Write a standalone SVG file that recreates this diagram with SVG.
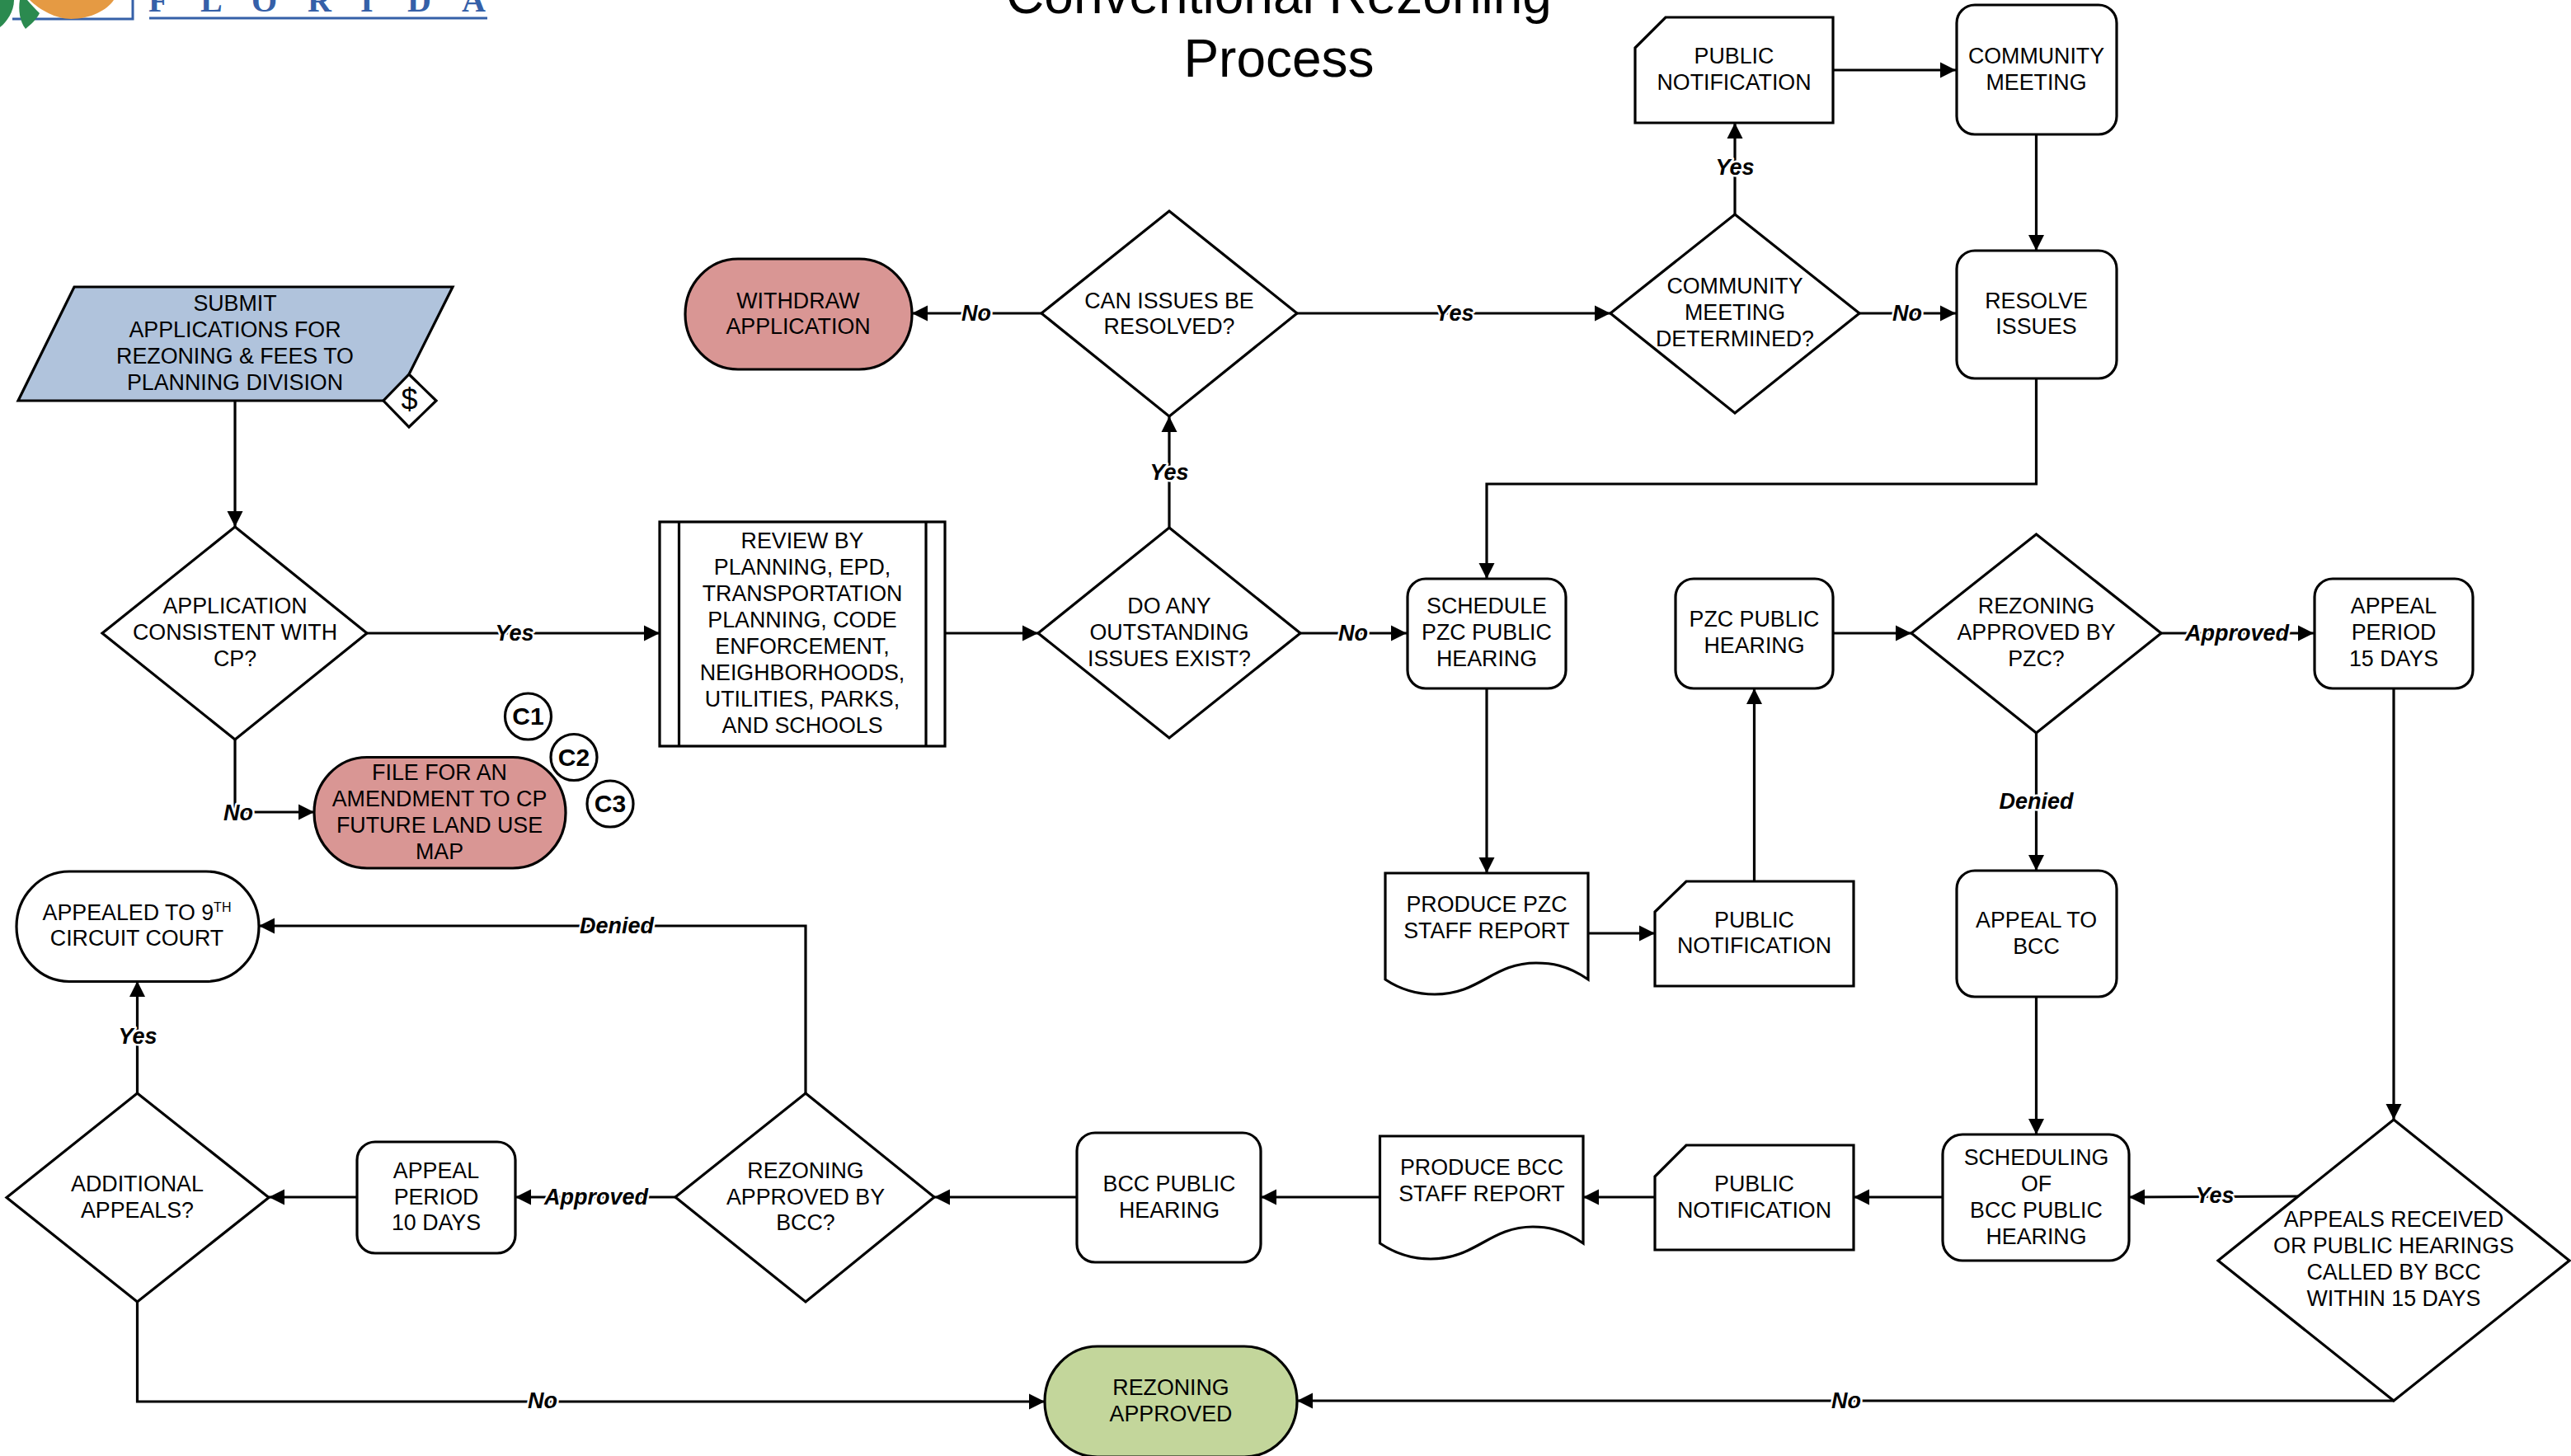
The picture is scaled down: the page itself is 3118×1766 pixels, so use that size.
<svg xmlns="http://www.w3.org/2000/svg" width="3118" height="1766" viewBox="0 0 3118 1766">
<style>
text{font-family:"Liberation Sans",Arial,sans-serif;fill:#000}
.t{font-size:26.8px;text-anchor:middle}
.s{fill:#fff;stroke:#000;stroke-width:3.2;stroke-linejoin:miter}
.c{fill:none;stroke:#000;stroke-width:3.2;marker-end:url(#a)}
.n{fill:none;stroke:#000;stroke-width:3.2}
.l{font-size:27px;font-weight:bold;font-style:italic;text-anchor:middle;paint-order:stroke;stroke:#fff;stroke-width:5px;stroke-linejoin:round}
.h{font-size:64px;text-anchor:middle}
.ci{font-size:30px;font-weight:bold;text-anchor:middle}
.f{font-family:"Liberation Serif",serif;font-size:40px;font-weight:bold;fill:#3560a8}
</style>
<defs><marker id="a" markerUnits="userSpaceOnUse" markerWidth="20" markerHeight="20" refX="19" refY="10" orient="auto"><path d="M0 0.5L19 10L0 19.5z" fill="#000"/></marker></defs>
<rect width="3118" height="1766" fill="#fff"/>
<g id="logo">
<path d="M15 23H161V0M181 22H591" fill="none" stroke="#3560a8" stroke-width="3"/>
<path d="M36 0C48 12 68 23 86 23C110 23 130 12 138 0z" fill="#e59a43"/>
<path d="M0 33C8 27 17 14 17 0H0z" fill="#2b8a4f"/>
<path d="M31 35C24 26 22 12 24 0H33C38 6 44 12 48 16C44 24 37 30 31 35z" fill="#2b8a4f"/>
<text class="f" x="180" y="14">F</text><text class="f" x="243" y="14">L</text><text class="f" x="305" y="14">O</text><text class="f" x="373" y="14">R</text><text class="f" x="437" y="14">I</text><text class="f" x="494" y="14">D</text><text class="f" x="560" y="14">A</text>
</g>
<g id="title"><text class="h" x="1551" y="16">Conventional Rezoning</text><text class="h" x="1551" y="93">Process</text></g>
<g id="connectors">
<path class="c" d="M285 486V639"/>
<path class="c" d="M445 768H800"/>
<path class="c" d="M285 897V985H381"/>
<path class="c" d="M1146 768H1259"/>
<path class="c" d="M1418 640V505"/>
<path class="c" d="M1263 380H1106"/>
<path class="c" d="M1573 380H1953"/>
<path class="c" d="M2104 260V149"/>
<path class="c" d="M2223 85H2372"/>
<path class="c" d="M2469.5 163V304"/>
<path class="c" d="M2255 380H2372"/>
<path class="c" d="M2469.5 459V587H1803V702"/>
<path class="c" d="M1577 768H1706"/>
<path class="c" d="M1803 835V1059"/>
<path class="c" d="M1926 1132H2007"/>
<path class="c" d="M2127.5 1069V835"/>
<path class="c" d="M2223 768H2318"/>
<path class="c" d="M2621 768H2806"/>
<path class="c" d="M2469.5 889V1056"/>
<path class="c" d="M2469.5 1209V1376"/>
<path class="c" d="M2903 835V1358"/>
<path class="c" d="M2788 1451L2582 1452"/>
<path class="c" d="M2356 1452H2248"/>
<path class="c" d="M2007 1452H1920"/>
<path class="c" d="M1673 1452H1529"/>
<path class="c" d="M1306 1452H1133"/>
<path class="c" d="M819 1452H625"/>
<path class="c" d="M433 1452H326"/>
<path class="c" d="M977 1326V1123H314"/>
<path class="c" d="M166.500 1326V1190"/>
<path class="c" d="M166.500 1579V1700H1267"/>
<path class="c" d="M2903 1699H1573"/>
<text class="l" x="624" y="777">Yes</text>
<text class="l" x="289" y="995">No</text>
<text class="l" x="1418" y="582">Yes</text>
<text class="l" x="1184" y="389">No</text>
<text class="l" x="1764" y="389">Yes</text>
<text class="l" x="2104" y="212">Yes</text>
<text class="l" x="2313" y="389">No</text>
<text class="l" x="1641" y="777">No</text>
<text class="l" x="2713" y="777">Approved</text>
<text class="l" x="2469.500" y="981">Denied</text>
<text class="l" x="2686" y="1459">Yes</text>
<text class="l" x="723" y="1461">Approved</text>
<text class="l" x="748" y="1132">Denied</text>
<text class="l" x="167" y="1266">Yes</text>
<text class="l" x="658" y="1708">No</text>
<text class="l" x="2239" y="1708">No</text>
</g>
<g id="submit"><path d="M90 348H549L496 454V486H22z" fill="#b0c3dc" stroke="none"/><path class="n" d="M496 454L549 348H90L22 486H465"/><text class="t" x="285" y="377">SUBMIT</text><text class="t" x="285" y="409">APPLICATIONS FOR</text><text class="t" x="285" y="441">REZONING &amp; FEES TO</text><text class="t" x="285" y="473">PLANNING DIVISION</text></g>
<g id="fee"><path class="s" d="M496 454L529 486L496 518L465 486z"/><text class="t" x="496.500" y="497" style="font-size:36px">$</text></g>
<g id="consistent"><path class="s" d="M285 639L445 768L285 897L124 768z"/><text class="t" x="285" y="744">APPLICATION</text><text class="t" x="285" y="776">CONSISTENT WITH</text><text class="t" x="285" y="808">CP?</text></g>
<g id="review"><rect class="s" x="800" y="633" width="346" height="272"/><path class="n" d="M823.500 633V905M1123 633V905"/><text class="t" x="973" y="665">REVIEW BY</text><text class="t" x="973" y="697">PLANNING, EPD,</text><text class="t" x="973" y="729">TRANSPORTATION</text><text class="t" x="973" y="761">PLANNING, CODE</text><text class="t" x="973" y="793">ENFORCEMENT,</text><text class="t" x="973" y="825">NEIGHBORHOODS,</text><text class="t" x="973" y="857">UTILITIES, PARKS,</text><text class="t" x="973" y="889">AND SCHOOLS</text></g>
<g id="amendment"><rect class="s" x="381" y="918.500" width="305" height="134.500" rx="64" ry="67" style="fill:#d99694"/><text class="t" x="533" y="946">FILE FOR AN</text><text class="t" x="533" y="978">AMENDMENT TO CP</text><text class="t" x="533" y="1010">FUTURE LAND USE</text><text class="t" x="533" y="1042">MAP</text></g>
<g id="c1"><circle class="s" cx="640.500" cy="869" r="28"/><text class="ci" x="640.500" y="879">C1</text></g>
<g id="c2"><circle class="s" cx="696" cy="918.500" r="28"/><text class="ci" x="696" y="929">C2</text></g>
<g id="c3"><circle class="s" cx="740" cy="975" r="28"/><text class="ci" x="740" y="985">C3</text></g>
<g id="withdraw"><rect class="s" x="831" y="314" width="275" height="134" rx="64" ry="67" style="fill:#d99694"/><text class="t" x="968" y="374">WITHDRAW</text><text class="t" x="968" y="405">APPLICATION</text></g>
<g id="can-issues"><path class="s" d="M1418 256L1573 380L1418 505L1263 380z"/><text class="t" x="1418" y="374">CAN ISSUES BE</text><text class="t" x="1418" y="405">RESOLVED?</text></g>
<g id="do-any"><path class="s" d="M1418 640L1577 768L1418 895L1259 768z"/><text class="t" x="1418" y="744">DO ANY</text><text class="t" x="1418" y="776">OUTSTANDING</text><text class="t" x="1418" y="808">ISSUES EXIST?</text></g>
<g id="community-q"><path class="s" d="M2104 260L2255 380L2104 501L1953 380z"/><text class="t" x="2104" y="356">COMMUNITY</text><text class="t" x="2104" y="388">MEETING</text><text class="t" x="2104" y="420">DETERMINED?</text></g>
<g id="notif-1"><path class="s" d="M2020 21H2223V149H1983V58z"/><text class="t" x="2103" y="77">PUBLIC</text><text class="t" x="2103" y="109">NOTIFICATION</text></g>
<g id="community-meeting"><rect class="s" x="2373" y="6" width="194" height="157" rx="22"/><text class="t" x="2469.500" y="77">COMMUNITY</text><text class="t" x="2469.500" y="109">MEETING</text></g>
<g id="resolve"><rect class="s" x="2373" y="304" width="194" height="155" rx="22"/><text class="t" x="2469.500" y="374">RESOLVE</text><text class="t" x="2469.500" y="405">ISSUES</text></g>
<g id="schedule-pzc"><rect class="s" x="1707" y="702" width="192" height="133" rx="22"/><text class="t" x="1803" y="744">SCHEDULE</text><text class="t" x="1803" y="776">PZC PUBLIC</text><text class="t" x="1803" y="808">HEARING</text></g>
<g id="pzc-hearing"><rect class="s" x="2032" y="702" width="191" height="133" rx="22"/><text class="t" x="2127.500" y="760">PZC PUBLIC</text><text class="t" x="2127.500" y="792">HEARING</text></g>
<g id="rez-pzc"><path class="s" d="M2469.500 648L2621 768L2469.500 889L2318 768z"/><text class="t" x="2469.500" y="744">REZONING</text><text class="t" x="2469.500" y="776">APPROVED BY</text><text class="t" x="2469.500" y="808">PZC?</text></g>
<g id="appeal-15"><rect class="s" x="2807" y="702" width="192" height="133" rx="22"/><text class="t" x="2903" y="744">APPEAL</text><text class="t" x="2903" y="776">PERIOD</text><text class="t" x="2903" y="808">15 DAYS</text></g>
<g id="pzc-report"><path class="s" d="M1680 1059H1926V1188C1900 1170 1880 1168 1863 1168C1810 1168 1795 1206 1740 1206C1715 1206 1695 1198 1680 1188z"/><text class="t" x="1803" y="1106">PRODUCE PZC</text><text class="t" x="1803" y="1138">STAFF REPORT</text></g>
<g id="notif-2"><path class="s" d="M2045 1069H2248V1196H2007V1106z"/><text class="t" x="2127.500" y="1125">PUBLIC</text><text class="t" x="2127.500" y="1156">NOTIFICATION</text></g>
<g id="appeal-bcc"><rect class="s" x="2373" y="1056" width="194" height="153" rx="22"/><text class="t" x="2469.500" y="1125">APPEAL TO</text><text class="t" x="2469.500" y="1157">BCC</text></g>
<g id="appealed"><rect class="s" x="20" y="1057" width="294" height="133.500" rx="64" ry="67"/><text class="t" x="166" y="1116">APPEALED TO 9<tspan font-size="16" dy="-10">TH</tspan></text><text class="t" x="166" y="1147">CIRCUIT COURT</text></g>
<g id="additional"><path class="s" d="M166.500 1326L326 1452.500L166.500 1579L8 1452.500z"/><text class="t" x="166.500" y="1445">ADDITIONAL</text><text class="t" x="166.500" y="1477">APPEALS?</text></g>
<g id="appeal-10"><rect class="s" x="433" y="1385" width="192" height="135" rx="22"/><text class="t" x="529" y="1429">APPEAL</text><text class="t" x="529" y="1461">PERIOD</text><text class="t" x="529" y="1492">10 DAYS</text></g>
<g id="rez-bcc"><path class="s" d="M977 1326L1133 1452L977 1579L819 1452z"/><text class="t" x="977" y="1429">REZONING</text><text class="t" x="977" y="1461">APPROVED BY</text><text class="t" x="977" y="1492">BCC?</text></g>
<g id="bcc-hearing"><rect class="s" x="1306" y="1374" width="223" height="157" rx="22"/><text class="t" x="1418" y="1445">BCC PUBLIC</text><text class="t" x="1418" y="1477">HEARING</text></g>
<g id="bcc-report"><path class="s" d="M1673.500 1378H1920V1508C1894 1490 1874 1488 1859 1488C1806 1488 1790 1527 1735 1527C1710 1527 1690 1519 1673.500 1508z"/><text class="t" x="1797" y="1425">PRODUCE BCC</text><text class="t" x="1797" y="1457">STAFF REPORT</text></g>
<g id="notif-3"><path class="s" d="M2045 1389H2248V1516H2007V1427z"/><text class="t" x="2127.500" y="1445">PUBLIC</text><text class="t" x="2127.500" y="1477">NOTIFICATION</text></g>
<g id="scheduling"><rect class="s" x="2356" y="1376" width="226" height="153" rx="24"/><text class="t" x="2469.500" y="1413">SCHEDULING</text><text class="t" x="2469.500" y="1445">OF</text><text class="t" x="2469.500" y="1477">BCC PUBLIC</text><text class="t" x="2469.500" y="1509">HEARING</text></g>
<g id="appeals-q"><path class="s" d="M2903 1358L3116 1529L2903 1699L2690 1529z"/><text class="t" x="2903" y="1488">APPEALS RECEIVED</text><text class="t" x="2903" y="1520">OR PUBLIC HEARINGS</text><text class="t" x="2903" y="1552">CALLED BY BCC</text><text class="t" x="2903" y="1584">WITHIN 15 DAYS</text></g>
<g id="approved"><rect class="s" x="1267" y="1633" width="306" height="134" rx="64" ry="67" style="fill:#c3d69b"/><text class="t" x="1420" y="1692">REZONING</text><text class="t" x="1420" y="1724">APPROVED</text></g>
</svg>
